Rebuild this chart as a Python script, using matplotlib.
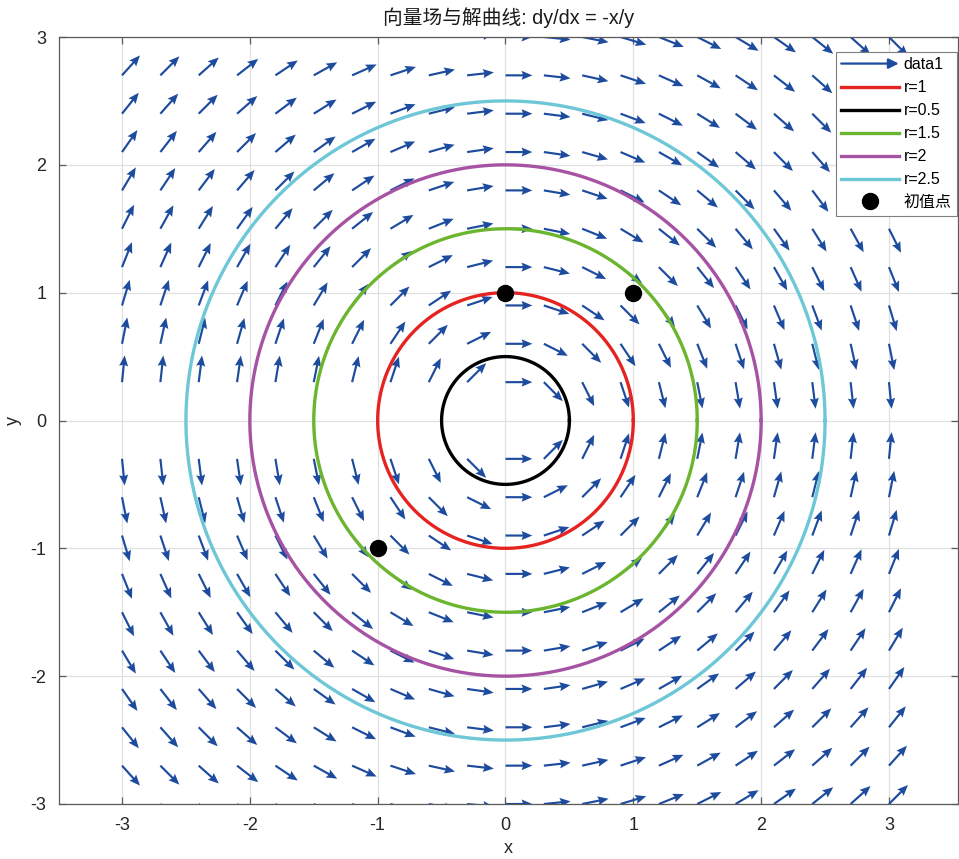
import matplotlib
matplotlib.use('Agg')
import matplotlib.pyplot as plt
import numpy as np
from matplotlib.lines import Line2D
from matplotlib.patches import FancyArrowPatch
from matplotlib.legend_handler import HandlerBase

plt.rcParams['font.family'] = ['Liberation Sans', 'Noto Sans CJK SC']
plt.rcParams['axes.unicode_minus'] = False

# grid of the direction field (step 0.3)
grid_x = [-3.0, -2.7, -2.4, -2.1, -1.8, -1.5, -1.2, -0.9, -0.6, -0.3, 0.0,
          0.3, 0.6, 0.9, 1.2, 1.5, 1.8, 2.1, 2.4, 2.7, 3.0]
grid_y = list(grid_x)

# solution curves x^2 + y^2 = r^2
radii = [1, 0.5, 1.5, 2, 2.5]
radius_labels = ['r=1', 'r=0.5', 'r=1.5', 'r=2', 'r=2.5']
radius_colors = ['#e52421', '#000000', '#6bb52f', '#a653a3', '#6dc7d7']

# initial points
init_x = [0, 1, -1]
init_y = [1, 1, -1]

arrow_color = '#1d4b9e'
arrow_len = 0.21


class ArrowHandler(HandlerBase):
    """Draw a small arrow as the legend key of the quiver."""
    def create_artists(self, legend, orig_handle, xdescent, ydescent,
                       width, height, fontsize, trans):
        y = height / 2 - ydescent
        arr = FancyArrowPatch((-xdescent, y), (width - xdescent, y),
                              arrowstyle='-|>', mutation_scale=15,
                              color=arrow_color, lw=1.6, shrinkA=0, shrinkB=0,
                              transform=trans)
        return [arr]


X, Y = np.meshgrid(np.array(grid_x), np.array(grid_y))
with np.errstate(divide='ignore', invalid='ignore'):
    S = -X / Y
    U = 1.0 / np.sqrt(1 + S ** 2)
    V = S / np.sqrt(1 + S ** 2)
bad = ~np.isfinite(U) | ~np.isfinite(V)
U = np.ma.masked_array(np.nan_to_num(U), mask=bad)
V = np.ma.masked_array(np.nan_to_num(V), mask=bad)

fig = plt.figure(figsize=(9.59, 8.59), dpi=100)
ax = fig.add_axes([59 / 959, 55 / 859, 899 / 959, 767 / 859])

ax.quiver(X, Y, U, V, angles='xy', scale_units='xy', scale=1 / arrow_len,
          color=arrow_color, width=0.0024, headwidth=4.2, headlength=5.0,
          headaxislength=4.4, zorder=2)

t = np.linspace(0, 2 * np.pi, 400)
for r, lab, c in zip(radii, radius_labels, radius_colors):
    ax.plot(r * np.cos(t), r * np.sin(t), color=c, lw=2.4, label=lab, zorder=3)

ax.plot(init_x, init_y, 'o', color='black', markersize=11.5, linestyle='none',
        label='初值点', zorder=4)

ax.set_xlim(-3.493, 3.54)
ax.set_ylim(-3, 3)
ax.set_xticks([-3, -2, -1, 0, 1, 2, 3])
ax.set_yticks([-3, -2, -1, 0, 1, 2, 3])
ax.grid(True, color='#e0e0e0', lw=0.9, zorder=0)
ax.set_axisbelow(True)

for sp in ax.spines.values():
    sp.set_color('#5a5a5a')
    sp.set_linewidth(0.9)
ax.tick_params(direction='in', length=5, width=0.9, color='#5a5a5a',
               labelsize=13, labelcolor='#262626', top=True, right=True, pad=9)

ax.set_xlabel('x', fontsize=13, color='#262626', labelpad=5)
ax.set_ylabel('y', fontsize=13, color='#262626')
ax.yaxis.set_label_coords(-0.041, 0.5)
ax.set_title('向量场与解曲线: dy/dx = -x/y', fontsize=14.2, color='#1a1a1a', pad=9)

arrow_proxy = Line2D([], [], color=arrow_color)
handles, labels = ax.get_legend_handles_labels()
leg = ax.legend([arrow_proxy] + handles, ['data1'] + labels,
                handler_map={arrow_proxy: ArrowHandler()},
                loc='upper right', bbox_to_anchor=(0.999, 0.981),
                borderaxespad=0, fontsize=11.5, handlelength=3.6,
                handletextpad=0.3, labelspacing=0.5, borderpad=0.35,
                fancybox=False, framealpha=1, edgecolor='#7f7f7f')
leg.get_frame().set_linewidth(0.8)

plt.savefig('out.png', dpi=100)
plt.close()
